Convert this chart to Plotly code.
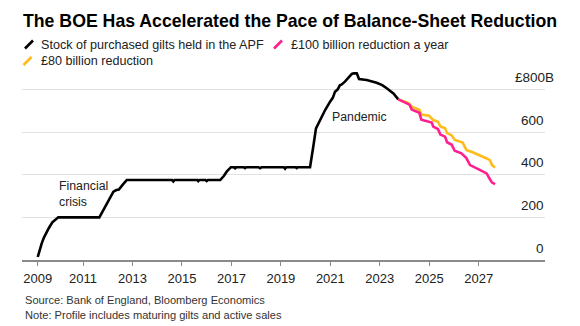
import plotly.graph_objects as go

# Gilts held in the Asset Purchase Facility, £ billions (decimal years)
apf_years = [
    2009.17, 2009.25, 2009.33, 2009.42, 2009.50, 2009.62, 2009.76, 2009.90, 2010.00,
    2011.66, 2011.75, 2011.96, 2012.10, 2012.23, 2012.35, 2012.45, 2012.60, 2012.77,
    2014.60, 2014.65, 2014.70, 2015.62, 2015.66, 2015.70, 2015.95, 2016.00, 2016.05,
    2016.55, 2016.70, 2016.81, 2016.98, 2017.10, 2017.15, 2017.20, 2017.50, 2017.55,
    2017.60, 2018.10, 2018.16, 2018.22, 2019.12, 2019.17, 2019.22, 2019.60, 2019.64,
    2019.68, 2020.18, 2020.25, 2020.31, 2020.42, 2020.58, 2020.79, 2020.99, 2021.10,
    2021.19, 2021.30, 2021.39, 2021.45, 2021.59, 2021.70, 2021.87, 2021.95, 2022.07,
    2022.16, 2022.47, 2022.87, 2023.10, 2023.28, 2023.55, 2023.75,
]
apf_values = [
    14, 50, 78, 105, 125, 150, 177, 192, 200,
    200, 220, 266, 295, 320, 328, 330, 352, 375,
    375, 368, 375, 375, 370, 375, 375, 370, 375,
    375, 395, 414, 435, 435, 430, 435, 435, 431,
    435, 435, 430, 435, 435, 428, 435, 435, 431,
    435, 435, 480, 531, 617, 656, 703, 742, 760,
    789, 800, 820, 822, 836, 850, 872, 875, 875,
    848, 844, 831, 820, 805, 781, 753,
]

# Projection: £100 billion reduction a year
fast_years = [
    2023.75, 2023.90, 2024.05, 2024.20, 2024.29, 2024.60, 2024.68, 2024.95, 2025.10,
    2025.16, 2025.35, 2025.45, 2025.64, 2025.72, 2025.91, 2026.03, 2026.30, 2026.50,
    2026.58, 2026.65, 2026.98, 2027.32, 2027.43, 2027.53, 2027.66,
]
fast_values = [
    753, 745, 738, 728, 705, 690, 658, 648, 644,
    625, 614, 588, 578, 552, 540, 512, 500, 478,
    462, 445, 426, 406, 383, 364, 356,
]

# Projection: £80 billion reduction
slow_years = [
    2023.75, 2023.95, 2024.15, 2024.29, 2024.60, 2024.68, 2025.00, 2025.16, 2025.35,
    2025.45, 2025.64, 2025.72, 2025.91, 2026.03, 2026.35, 2026.50, 2026.78, 2027.32,
    2027.45, 2027.54, 2027.66,
]
slow_values = [
    753, 745, 737, 719, 704, 682, 676, 656, 648,
    626, 617, 595, 584, 563, 551, 516, 504, 476,
    468, 445, 434,
]

x_tick_vals = [2009.17, 2011, 2013, 2015, 2017, 2019, 2021, 2023, 2025, 2027]
x_tick_text = ["2009", "2011", "2013", "2015", "2017", "2019", "2021", "2023", "2025", "2027"]
y_tick_vals = [0, 200, 400, 600, 800]
y_tick_text = ["0", "200", "400", "600", "£800B"]

series_names = [
    "Stock of purchased gilts held in the APF",
    "£100 billion reduction a year",
    "£80 billion reduction",
]

BLACK = "#000000"
PINK = "#ff1f8f"
YELLOW = "#ffbb1c"
FONT = "Liberation Sans"

W, H = 580, 326
L, R, T, B = 22, 35, 68, 66
PW, PH = W - L - R, H - T - B


def px_x(px):
    return (px - L) / PW


def px_y(py):
    return (H - B - py) / PH


fig = go.Figure()
fig.add_trace(go.Scatter(x=apf_years, y=apf_values, mode="lines", name=series_names[0],
                         line=dict(color=BLACK, width=2.6), hoverinfo="skip"))
fig.add_trace(go.Scatter(x=slow_years, y=slow_values, mode="lines", name=series_names[2],
                         line=dict(color=YELLOW, width=2.6), hoverinfo="skip"))
fig.add_trace(go.Scatter(x=fast_years, y=fast_values, mode="lines", name=series_names[1],
                         line=dict(color=PINK, width=2.6), hoverinfo="skip"))

annotations = []

# value labels sit above their gridlines at the right edge
for v, t in zip(y_tick_vals, y_tick_text):
    annotations.append(dict(
        x=1, xref="paper", y=v, yref="y", text=t, showarrow=False,
        xanchor="right", yanchor="middle", xshift=11 if t.endswith("B") else 1, yshift=12,
        font=dict(family=FONT, size=13.5, color="#222"),
    ))

# event labels
annotations.append(dict(x=2009.94, y=310, xref="x", yref="y", text="Financial<br>crisis",
                        showarrow=False, xanchor="left", yanchor="middle", align="left",
                        font=dict(family=FONT, size=12.3, color="#222")))
annotations.append(dict(x=2020.99, y=669, xref="x", yref="y", text="Pandemic",
                        showarrow=False, xanchor="left", yanchor="middle",
                        font=dict(family=FONT, size=12.3, color="#222")))

# legend: slash icon + label
legend_items = [
    (series_names[0], BLACK, 25, 44.5, 39),
    (series_names[1], PINK, 274, 44.5, 289),
    (series_names[2], YELLOW, 23.5, 61, 39),
]
shapes = []
for name, color, ix, cy, tx in legend_items:
    shapes.append(dict(type="line", xref="paper", yref="paper",
                       x0=px_x(ix), y0=px_y(cy + 4), x1=px_x(ix + 8), y1=px_y(cy - 4),
                       line=dict(color=color, width=2.6)))
    annotations.append(dict(x=px_x(tx), y=px_y(cy), xref="paper", yref="paper", text=name,
                            showarrow=False, xanchor="left", yanchor="middle",
                            font=dict(family=FONT, size=12.6, color="#222")))

# footer
annotations.append(dict(x=px_x(23), y=px_y(300), xref="paper", yref="paper",
                        text="Source: Bank of England, Bloomberg Economics",
                        showarrow=False, xanchor="left", yanchor="middle",
                        font=dict(family=FONT, size=11.1, color="#333")))
annotations.append(dict(x=px_x(23), y=px_y(315), xref="paper", yref="paper",
                        text="Note: Profile includes maturing gilts and active sales",
                        showarrow=False, xanchor="left", yanchor="middle",
                        font=dict(family=FONT, size=11.1, color="#333")))

fig.update_layout(
    width=W, height=H, autosize=False,
    margin=dict(l=L, r=R, t=T, b=B, pad=0),
    paper_bgcolor="white", plot_bgcolor="white",
    showlegend=False,
    title=dict(text="The BOE Has Accelerated the Pace of Balance-Sheet Reduction",
               xref="container", yref="container", x=23 / W, y=1 - 21 / H,
               xanchor="left", yanchor="middle",
               font=dict(family=FONT, size=17.7, color="#000", weight=700)),
    xaxis=dict(range=[2008.533, 2029.68], tickmode="array", tickvals=x_tick_vals,
               ticktext=x_tick_text, showgrid=False, zeroline=False,
               showline=True, linecolor="#8a8a8a", linewidth=1.5,
               ticks="outside", ticklen=4, tickwidth=1, tickcolor="#8a8a8a",
               tickfont=dict(family=FONT, size=13, color="#222"), ticklabelstandoff=2),
    yaxis=dict(range=[0, 900], tickmode="array", tickvals=y_tick_vals,
               showticklabels=False, showgrid=True, gridcolor="#e2e2e2", gridwidth=1,
               zeroline=False, showline=False, ticks=""),
    annotations=annotations,
    shapes=shapes,
)

fig.write_html("out.html")
